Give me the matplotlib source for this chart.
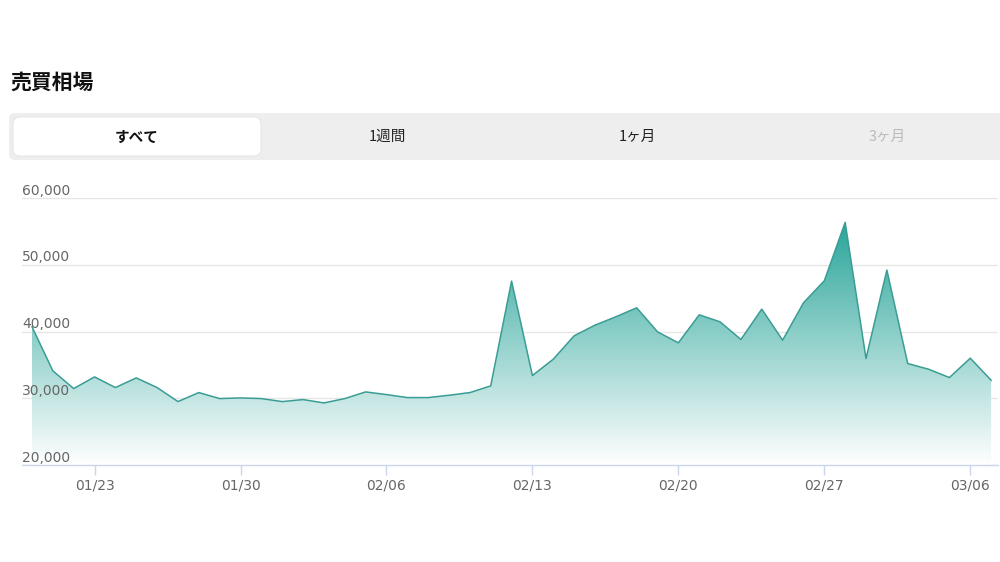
import matplotlib
matplotlib.use("Agg")
import matplotlib.pyplot as plt
import matplotlib.colors as mcolors
import matplotlib.dates as mdates
from matplotlib.patches import FancyBboxPatch, Polygon
import numpy as np
import pandas as pd

# daily prices, 01/20 - 03/07
dates = pd.date_range("2023-01-20", "2023-03-07", freq="D")
prices = [40700, 34100, 31450, 33200, 31600, 33050, 31600, 29500, 30850, 29950,
          30050, 29950, 29500, 29800, 29300, 29950, 30950, 30550, 30100, 30100,
          30450, 30850, 31850, 47550, 33400, 35850, 39350, 40950, 42200, 43550,
          39950, 38300, 42500, 41450, 38800, 43350, 38700, 44300, 47600, 56350,
          35950, 49200, 35200, 34350, 33100, 36000, 32700]
tick_dates = pd.date_range("2023-01-23", "2023-03-06", freq="7D")
y_ticks = [20000, 30000, 40000, 50000, 60000]
title = "売買相場"
tabs = ["すべて", "1週間", "1ヶ月", "3ヶ月"]

jp = ["Noto Sans CJK JP", "DejaVu Sans"]
line_color = "#3a9d95"
top_color = "#2aa59a"

fig = plt.figure(figsize=(10, 5.62), dpi=100)

# background layer in pixel coords for title and tab bar
bg = fig.add_axes([0, 0, 1, 1], zorder=0)
bg.set_xlim(0, 1000)
bg.set_ylim(562, 0)
bg.axis("off")

bg.text(10, 82, title, fontsize=15, fontweight="bold", family=jp,
        ha="left", va="center", color="#111111")

bg.add_patch(FancyBboxPatch((9, 113), 1000, 47, boxstyle="round,pad=0,rounding_size=6",
                            facecolor="#eeeeee", edgecolor="none"))
bg.add_patch(FancyBboxPatch((13, 117), 248, 39, boxstyle="round,pad=0,rounding_size=7",
                            facecolor="white", edgecolor="#e2e2e2", lw=0.6))
for i, t in enumerate(tabs):
    if i == 0:
        kw = dict(fontweight="bold", color="#111111")
    elif i == 3:
        kw = dict(color="#bbbbbb")
    else:
        kw = dict(color="#222222")
    bg.text(137 + 250 * i, 137, t, fontsize=10.5, family=jp, ha="center", va="center", **kw)

# chart
ax = fig.add_axes([0.022, (562 - 465) / 562, 0.976, 267 / 562], zorder=1)
ax.set_facecolor("none")
x = mdates.date2num(dates)

ax.plot(x, prices, color=line_color, lw=1.1, zorder=3)
verts = [(x[0], y_ticks[0])] + list(zip(x, prices)) + [(x[-1], y_ticks[0])]
poly = Polygon(verts, facecolor="none", edgecolor="none")
ax.add_patch(poly)
grad = np.linspace(0, 1, 256).reshape(-1, 1)
cmap = mcolors.LinearSegmentedColormap.from_list("g", ["#ffffff", top_color])
im = ax.imshow(grad, cmap=cmap, aspect="auto", origin="lower",
               extent=[x[0], x[-1], y_ticks[0], max(prices)], zorder=2)
im.set_clip_path(poly)

ax.set_xlim(x[0] - 0.48, x[-1] + 0.33)
ax.set_ylim(y_ticks[0], y_ticks[-1])

ax.set_yticks(y_ticks)
ax.set_yticklabels([])
ax.tick_params(axis="y", length=0)
ax.grid(axis="y", color="#e6e6e6", lw=1)
ax.set_axisbelow(True)
for v in y_ticks:
    ax.annotate(f"{v:,}", xy=(0, v), xycoords=("axes fraction", "data"),
                xytext=(0, 2.5), textcoords="offset points",
                ha="left", va="baseline", fontsize=10, color="#666666")

ax.set_xticks(mdates.date2num(tick_dates))
ax.set_xticklabels([d.strftime("%m/%d") for d in tick_dates])
ax.tick_params(axis="x", length=7, width=1, color="#ccd6eb", labelcolor="#666666",
               labelsize=10, pad=3)

for s in ["top", "right", "left"]:
    ax.spines[s].set_visible(False)
ax.spines["bottom"].set_color("#ccd6eb")
ax.spines["bottom"].set_linewidth(1)

fig.savefig("out.png", dpi=100)
